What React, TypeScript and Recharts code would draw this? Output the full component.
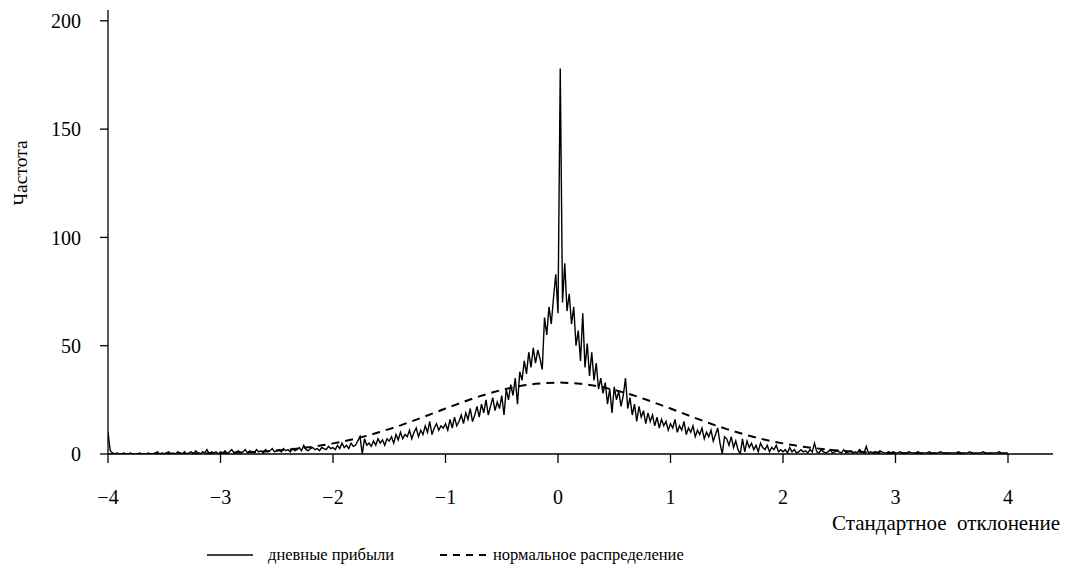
import React from 'react';
import { LineChart, Line, XAxis, YAxis, Legend } from 'recharts';

const FONT = "'Liberation Serif', 'Times New Roman', Times, serif";

const X_TICKS = [-4, -3, -2, -1, 0, 1, 2, 3, 4];
const Y_TICKS = [0, 50, 100, 150, 200];

const SERIES_DAILY_NAME = 'дневные прибыли';
const SERIES_NORMAL_NAME = 'нормальное распределение';
const X_TITLE = 'Стандартное\u00A0\u00A0отклонение';
const Y_TITLE = 'Частота';

// daily returns histogram, sampled every 0.02 sd from -4.00 to 4.00
const DAILY_START = -4;
const DAILY_STEP = 0.02;
const DAILY_VALUES = [
  10, 1.5, 0.5, 0, 0.5, 0, 0, 0.5, 0, 0, 0.5, 0, 0, 0, 0.5, 0, 0, 0, 0.5, 0, 0, 0.5, 1, 0, 0.5,
  0, 0.5, 1, 0, 0.5, 0, 1, 0.5, 0, 1, 0, 0.5, 1, 0, 1.5, 0.5, 0, 1, 0.5, 2, 0, 1, 0.5, 1, 0,
  1, 0.5, 1.5, 0, 1, 2, 0.5, 1, 1.5, 0.5, 1, 2, 0.5, 1.5, 1, 0.5, 2, 1, 1.5, 0.5, 2, 1, 1.5, 2.5, 1,
  1.5, 2, 1, 2.5, 1.5, 2, 1, 2.5, 1.5, 2, 3, 1.5, 4, 2, 1.5, 2.5, 3, 2, 2.5, 1.5, 3, 2.5, 2, 3.5, 2.5,
  3, 2, 4, 2.5, 5, 3, 4, 2.5, 5, 3.5, 4, 6, 8, 0, 7, 4, 5, 3.5, 6, 4, 7, 5, 6.5, 4, 7,
  6, 8, 5, 9, 6.5, 10, 7, 9, 8, 11, 7, 10, 12, 8, 11, 9, 13, 10, 15, 9, 12, 14, 11, 13, 12,
  14, 11, 16, 12, 17, 13, 15, 18, 14, 19, 16, 21, 15, 18, 22, 17, 23, 19, 25, 18, 22, 26, 20, 24, 21,
  27, 18, 30, 25, 32, 27, 35, 23, 38, 34, 43, 37, 47, 40, 49, 42, 48, 44, 39, 63, 55, 68, 60, 72, 83,
  65, 178, 70, 88, 66, 74, 60, 68, 50, 57, 43, 65, 40, 51, 36, 47, 34, 42, 30, 35, 28, 33, 23, 30, 19,
  31, 25, 29, 22, 27, 35, 21, 26, 18, 23, 15, 22, 17, 20, 14, 19, 15, 18, 13, 17, 12, 16, 13, 15, 11,
  14, 12, 16, 10, 13, 11, 15, 9, 12, 10, 13, 8, 11, 9, 12, 7, 10, 8, 11, 6, 9, 12, 5, 0, 8,
  7, 4, 8, 3, 6, 2, 0, 7, 1, 6, 3, 5, 2, 4, 1, 5, 3, 2, 4, 1, 3, 2, 4, 1, 2,
  1, 2, 0.5, 3, 1, 2, 0.5, 1, 2, 1, 1.5, 0.5, 2, 1, 5, 1, 0.5, 2, 1, 0.5, 1, 2, 0.5, 1, 1.5,
  1, 0.5, 2, 0.5, 1, 1.5, 0.5, 1, 0.5, 2, 1, 0.5, 3.5, 0.5, 1, 0.5, 1, 0.5, 1.5, 1, 0.5, 0.5, 1, 0.5, 1,
  0.5, 0.5, 1, 0.5, 0.5, 0.5, 1, 0.5, 0.5, 0.5, 1, 0.5, 0.5, 0.5, 0.5, 1, 0.5, 0.5, 0.5, 0.5, 1, 0.5, 0.5, 0.5, 0.5,
  0.5, 0.5, 0.5, 1, 0.5, 0.5, 0.5, 0.5, 1, 0.5, 0.5, 0.5, 0.5, 0.5, 1, 0.5, 0.5, 0.5, 0.5, 0.5, 0.5, 1, 0.5, 0.5, 0.5,
  0.5,
];

// normal curve, sampled every 0.1 sd from -4.0 to 4.0
const NORMAL_START = -4;
const NORMAL_STEP = 0.1;
const NORMAL_VALUES = [
  0.01, 0.01, 0.02, 0.03, 0.05, 0.07, 0.1, 0.15, 0.2, 0.3,
  0.4, 0.5, 0.7, 0.9, 1.2, 1.6, 2.0, 2.6, 3.2, 4.0,
  4.9, 5.9, 7.1, 8.4, 9.9, 11.5, 13.2, 15.1, 17.0, 19.0,
  21.0, 22.9, 24.8, 26.6, 28.2, 29.6, 30.8, 31.7, 32.4, 32.8,
  33.0,
  32.8, 32.4, 31.7, 30.8, 29.6, 28.2, 26.6, 24.8, 22.9, 21.0,
  19.0, 17.0, 15.1, 13.2, 11.5, 9.9, 8.4, 7.1, 5.9, 4.9,
  4.0, 3.2, 2.6, 2.0, 1.6, 1.2, 0.9, 0.7, 0.5, 0.4,
  0.3, 0.2, 0.15, 0.1, 0.07, 0.05, 0.03, 0.02, 0.01, 0.01,
];

const dailyData = DAILY_VALUES.map((v, i) => ({
  x: +(DAILY_START + i * DAILY_STEP).toFixed(2),
  daily: v,
}));
const normalData = NORMAL_VALUES.map((v, i) => ({
  x: +(NORMAL_START + i * NORMAL_STEP).toFixed(1),
  normal: v,
}));

const fmtX = (v: number) => (v < 0 ? '\u2212' + Math.abs(v) : String(v));

const XTitle = (props: any) => {
  const vb = props.viewBox || {};
  return (
    <text
      x={vb.x + vb.width + 7}
      y={vb.y + 76}
      textAnchor="end"
      fontFamily={FONT}
      fontSize={21}
      fill="#000"
    >
      {X_TITLE}
    </text>
  );
};

const YTitle = (props: any) => {
  const vb = props.viewBox || {};
  const cx = vb.x + 12;
  const cy = vb.y + 163;
  return (
    <text
      x={cx}
      y={cy}
      transform={`rotate(-90, ${cx}, ${cy})`}
      textAnchor="middle"
      dominantBaseline="central"
      fontFamily={FONT}
      fontSize={19.5}
      fill="#000"
    >
      {Y_TITLE}
    </text>
  );
};

const LegendContent = () => (
  <div style={{ position: 'relative', height: 30, width: 1060, fontFamily: FONT, fontSize: 16.5, color: '#000' }}>
    <svg style={{ position: 'absolute', left: 199, top: 0 }} width={46} height={30}>
      <line x1={0} y1={15} x2={46} y2={15} stroke="#000" strokeWidth={1.5} />
    </svg>
    <span style={{ position: 'absolute', left: 260, top: 0, lineHeight: '30px', whiteSpace: 'nowrap' }}>
      {SERIES_DAILY_NAME}
    </span>
    <svg style={{ position: 'absolute', left: 432, top: 0 }} width={46} height={30}>
      <line x1={0} y1={15} x2={46} y2={15} stroke="#000" strokeWidth={2} strokeDasharray="7 6" />
    </svg>
    <span style={{ position: 'absolute', left: 485, top: 0, lineHeight: '30px', whiteSpace: 'nowrap' }}>
      {SERIES_NORMAL_NAME}
    </span>
  </div>
);

export default function App() {
  return (
    <div style={{ width: 1060, height: 567 }}>
      <LineChart width={1060} height={567} margin={{ top: 2, right: 15, left: 0, bottom: 5 }}>
        <XAxis
          type="number"
          dataKey="x"
          domain={[-4, 4.4]}
          ticks={X_TICKS}
          tickFormatter={fmtX}
          tickSize={9}
          tickMargin={27}
          height={86}
          allowDataOverflow
          axisLine={{ stroke: '#000', strokeWidth: 1.3 }}
          tickLine={{ stroke: '#000', strokeWidth: 1.3 }}
          tick={{ fill: '#000', fontSize: 20, fontFamily: FONT }}
          label={{ content: XTitle }}
        />
        <YAxis
          type="number"
          domain={[0, 205]}
          ticks={Y_TICKS}
          tickSize={8}
          tickMargin={19}
          width={100}
          allowDataOverflow
          axisLine={{ stroke: '#000', strokeWidth: 1.3 }}
          tickLine={{ stroke: '#000', strokeWidth: 1.3 }}
          tick={{ fill: '#000', fontSize: 20, fontFamily: FONT }}
          label={{ content: YTitle }}
        />
        <Legend verticalAlign="bottom" height={30} wrapperStyle={{ left: 0, width: 1060 }} content={() => <LegendContent />} />
        <Line
          data={normalData}
          dataKey="normal"
          name={SERIES_NORMAL_NAME}
          type="linear"
          stroke="#000"
          strokeWidth={2}
          strokeDasharray="8 6"
          dot={false}
          activeDot={false}
          isAnimationActive={false}
        />
        <Line
          data={dailyData}
          dataKey="daily"
          name={SERIES_DAILY_NAME}
          type="linear"
          stroke="#000"
          strokeWidth={1.4}
          dot={false}
          activeDot={false}
          isAnimationActive={false}
        />
      </LineChart>
    </div>
  );
}
